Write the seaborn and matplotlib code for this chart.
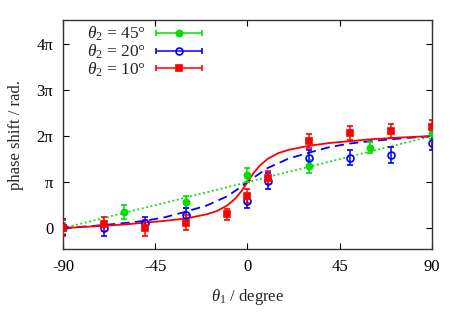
import numpy as np
import matplotlib
matplotlib.use('Agg')
import matplotlib.pyplot as plt
from matplotlib.legend_handler import HandlerErrorbar
import seaborn as sns

sns.set_style('ticks')
plt.rcParams['font.family'] = ['Liberation Serif', 'DejaVu Serif']
plt.rcParams['mathtext.fontset'] = 'custom'
plt.rcParams['mathtext.rm'] = 'Liberation Serif'
plt.rcParams['mathtext.it'] = 'Liberation Serif:italic'
plt.rcParams['font.size'] = 12

PI = np.pi

# measured points (phase in units of pi)
green_x = [-90, -60, -30, 0, 30, 60, 90]
green_y = [0.0, 0.35, 0.56, 1.16, 1.34, 1.75, 2.06]
green_err = [0.12, 0.15, 0.13, 0.15, 0.14, 0.12, 0.12]

blue_x = [-90, -70, -50, -30, 0, 10, 30, 50, 70, 90]
blue_y = [0.03, 0.0, 0.12, 0.28, 0.58, 1.02, 1.53, 1.53, 1.59, 1.86]
blue_err = [0.17, 0.16, 0.12, 0.15, 0.15, 0.17, 0.16, 0.16, 0.17, 0.16]

red_x = [-90, -70, -50, -30, -10, 0, 10, 30, 50, 70, 90]
red_y = [0.0, 0.09, 0.01, 0.12, 0.30, 0.70, 1.10, 1.90, 2.06, 2.11, 2.20]
red_err = [0.17, 0.16, 0.17, 0.17, 0.12, 0.15, 0.15, 0.15, 0.15, 0.16, 0.16]

# fitted curves (phase in units of pi)
fit_green_x = [-90, 90]
fit_green_y = [0.0, 2.0]

fit_blue_x = [-90, -75, -60, -50, -40, -30, -20, -10, -5, 0, 5, 10, 20, 30, 40, 50, 60, 75, 90]
fit_blue_y = [0.0, 0.05, 0.11, 0.16, 0.24, 0.36, 0.49, 0.69, 0.84, 1.0,
              1.16, 1.31, 1.51, 1.64, 1.76, 1.84, 1.89, 1.95, 2.0]

fit_red_x = [-90, -75, -60, -50, -40, -30, -20, -15, -10, -6, -3, 0,
             3, 6, 10, 15, 20, 30, 40, 50, 60, 75, 90]
fit_red_y = [0.0, 0.04, 0.08, 0.12, 0.16, 0.21, 0.30, 0.37, 0.49, 0.64, 0.80, 1.0,
             1.20, 1.36, 1.51, 1.63, 1.70, 1.79, 1.85, 1.89, 1.93, 1.97, 2.0]

labels = [r'$\theta_2$ = 45°', r'$\theta_2$ = 20°', r'$\theta_2$ = 10°']
GREEN, BLUE, RED = '#00e000', '#0000ff', '#ff0000'

fig = plt.figure(figsize=(4.63, 3.24), dpi=100)
ax = fig.add_axes([0.136, 0.231, 0.797, 0.707])

sns.lineplot(x=fit_green_x, y=np.array(fit_green_y) * PI, ax=ax, color=GREEN,
             linestyle=(0, (1, 1.5)), linewidth=1.3)
sns.lineplot(x=fit_blue_x, y=np.array(fit_blue_y) * PI, ax=ax, color=BLUE,
             linestyle=(0, (5, 3)), linewidth=1.3)
sns.lineplot(x=fit_red_x, y=np.array(fit_red_y) * PI, ax=ax, color=RED,
             linestyle='-', linewidth=1.3)

styles = [
    (green_x, green_y, green_err, GREEN, 'o', GREEN, 4.5),
    (blue_x, blue_y, blue_err, BLUE, 'o', 'none', 5.0),
    (red_x, red_y, red_err, RED, 's', RED, 4.3),
]
handles = []
for (x, y, e, c, m, fc, ms), lab in zip(styles, labels):
    ax.errorbar(x, np.array(y) * PI, yerr=np.array(e) * PI, fmt=m, color=c,
                mfc=fc, mec=c, ms=ms, mew=1.2, elinewidth=1.1, capsize=2.2,
                capthick=1.1, zorder=3)
    h = ax.errorbar([np.nan], [np.nan], xerr=[1], fmt=m, color=c, mfc=fc,
                    mec=c, ms=ms, mew=1.2, elinewidth=1.1, capsize=2.2,
                    capthick=1.1, label=lab)
    handles.append(h)

ax.set_xlim(-90, 90)
ax.set_ylim(-0.456 * PI, 4.52 * PI)
ax.set_xticks([-90, -45, 0, 45, 90])
ax.set_xticklabels(['-90', '-45', '0', '45', '90'])
ax.set_yticks([0, PI, 2 * PI, 3 * PI, 4 * PI])
ax.set_yticklabels(['0', 'π', '2π', '3π', '4π'])
ax.tick_params(direction='in', length=4, width=0.8, top=True, right=True,
               labelsize=12, pad=7, colors='black')
for s in ax.spines.values():
    s.set_color('#333333')
    s.set_linewidth(1.0)

ax.set_xlabel(r'$\theta_1$ / degree', fontsize=12, labelpad=9)
ax.set_ylabel('phase shift / rad.', fontsize=12, labelpad=9)

hmap = {h: HandlerErrorbar(xerr_size=1.35) for h in handles}
ax.legend(handles=handles, labels=labels, loc='upper left', handler_map=hmap,
          bbox_to_anchor=(0.03, 1.035), markerfirst=False, frameon=False,
          handlelength=2.9, handletextpad=0.45, labelspacing=-0.05,
          borderpad=0.25, fontsize=12.5)

fig.savefig('out.png', dpi=100)
